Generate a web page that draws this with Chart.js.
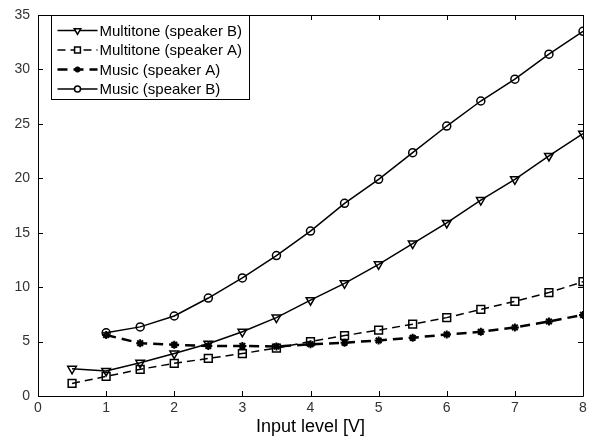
<!DOCTYPE html>
<html>
<head>
<meta charset="utf-8">
<script src="https://cdn.jsdelivr.net/npm/chart.js@4/dist/chart.umd.min.js"></script>
<style>
  html, body { margin: 0; padding: 0; background: #fff; }
  #wrap { width: 591px; height: 440px; }
</style>
</head>
<body>
<div id="wrap"><canvas id="levelChart" width="591" height="440"></canvas></div>
<script>
// input levels (V)
const inputMultitone = [0.5, 1, 1.5, 2, 2.5, 3, 3.5, 4, 4.5, 5, 5.5, 6, 6.5, 7, 7.5, 8];
const inputMusic = [1, 1.5, 2, 2.5, 3, 3.5, 4, 4.5, 5, 5.5, 6, 6.5, 7, 7.5, 8];

// series values
const multitoneB = [2.5, 2.3, 3.05, 3.9, 4.8, 5.9, 7.2, 8.8, 10.35, 12.1, 14.0, 15.9, 18.0, 19.9, 22.05, 24.1];
const multitoneA = [1.15, 1.8, 2.45, 3.0, 3.45, 3.9, 4.4, 5.0, 5.55, 6.05, 6.6, 7.2, 7.95, 8.7, 9.5, 10.5];
const musicA = [5.6, 4.85, 4.7, 4.6, 4.6, 4.55, 4.75, 4.9, 5.1, 5.35, 5.65, 5.9, 6.3, 6.85, 7.45];
const musicB = [5.8, 6.35, 7.35, 9.0, 10.85, 12.9, 15.15, 17.7, 19.9, 22.35, 24.8, 27.1, 29.1, 31.4, 33.5];

const seriesLabels = ['Multitone (speaker B)', 'Multitone (speaker A)', 'Music (speaker A)', 'Music (speaker B)'];
const xTicks = [0, 1, 2, 3, 4, 5, 6, 7, 8];
const yTicks = [0, 5, 10, 15, 20, 25, 30, 35];

const FONT = 'Arial, "Liberation Sans", sans-serif';

function toPoints(xs, ys) {
    return ys.map((y, i) => ({ x: xs[i], y: y }));
}

// legend box inside the axes + inward ticks on all four sides
const matlabAxes = {
    id: 'matlabAxes',
    afterDraw(chart) {
        const ctx = chart.ctx;
        const a = chart.chartArea;
        const xs = chart.scales.x;
        const ys = chart.scales.y;
        ctx.save();
        ctx.strokeStyle = '#000';
        ctx.lineWidth = 1;
        ctx.setLineDash([]);
        ctx.beginPath();
        ctx.rect(Math.round(a.left) + 0.5, Math.round(a.top) + 0.5, Math.round(a.right - a.left), Math.round(a.bottom - a.top));
        ctx.stroke();
        const tl = 5;
        ctx.beginPath();
        xTicks.forEach(v => {
            const px = Math.round(xs.getPixelForValue(v)) + 0.5;
            ctx.moveTo(px, a.bottom); ctx.lineTo(px, a.bottom - tl);
            ctx.moveTo(px, a.top); ctx.lineTo(px, a.top + tl);
        });
        yTicks.forEach(v => {
            const py = Math.round(ys.getPixelForValue(v)) + 0.5;
            ctx.moveTo(a.left, py); ctx.lineTo(a.left + tl, py);
            ctx.moveTo(a.right, py); ctx.lineTo(a.right - tl, py);
        });
        ctx.stroke();

        // legend
        const lx = Math.round(a.left) + 13.5;
        const ly = Math.round(a.top) + 0.5;
        const lw = 198, lh = 84;
        ctx.fillStyle = '#fff';
        ctx.fillRect(lx, ly, lw, lh);
        ctx.strokeRect(lx, ly, lw, lh);
        ctx.font = '15px ' + FONT;
        ctx.textBaseline = 'middle';
        chart.data.datasets.forEach((ds, i) => {
            const y = ly + 15 + i * 19.5;
            ctx.strokeStyle = '#000';
            ctx.lineWidth = ds.borderWidth;
            ctx.setLineDash(ds.borderDash || []);
            ctx.beginPath();
            ctx.moveTo(lx + 6, y);
            ctx.lineTo(lx + 46, y);
            ctx.stroke();
            ctx.setLineDash([]);
            ctx.fillStyle = ds.pointStyle === 'star' ? '#000' : '#fff';
            ctx.lineWidth = ds.pointBorderWidth;
            Chart.helpers.drawPoint(ctx, {
                pointStyle: ds.pointStyle,
                rotation: ds.rotation || 0,
                radius: ds.pointRadius * 0.75,
                borderWidth: ds.pointBorderWidth
            }, lx + 26, y);
            ctx.fillStyle = '#000';
            ctx.fillText(ds.label, lx + 48, y + 1);
        });
        ctx.restore();
    }
};

const ctx = document.getElementById('levelChart').getContext('2d');
const levelChart = new Chart(ctx, {
    type: 'line',
    data: {
        datasets: [{
            label: seriesLabels[0],
            data: toPoints(inputMultitone, multitoneB),
            borderColor: '#000',
            borderWidth: 1.5,
            pointStyle: 'triangle',
            rotation: 180,
            pointRadius: 5,
            pointBorderWidth: 1.5,
            pointBackgroundColor: 'rgba(0,0,0,0)',
            pointBorderColor: '#000'
        }, {
            label: seriesLabels[1],
            data: toPoints(inputMultitone, multitoneA),
            borderColor: '#000',
            borderWidth: 1.5,
            borderDash: [8, 5],
            pointStyle: 'rect',
            pointRadius: 5.5,
            pointBorderWidth: 1.5,
            pointBackgroundColor: 'rgba(0,0,0,0)',
            pointBorderColor: '#000'
        }, {
            label: seriesLabels[2],
            data: toPoints(inputMusic, musicA),
            borderColor: '#000',
            borderWidth: 2.5,
            borderDash: [10, 6],
            pointStyle: 'star',
            pointRadius: 4,
            pointBorderWidth: 2,
            pointBackgroundColor: '#000',
            pointBorderColor: '#000'
        }, {
            label: seriesLabels[3],
            data: toPoints(inputMusic, musicB),
            borderColor: '#000',
            borderWidth: 1.5,
            pointStyle: 'circle',
            pointRadius: 4,
            pointBorderWidth: 1.5,
            pointBackgroundColor: 'rgba(0,0,0,0)',
            pointBorderColor: '#000'
        }]
    },
    options: {
        responsive: false,
        animation: false,
        layout: { padding: { top: 15, right: 8, left: 0, bottom: 0 } },
        plugins: {
            legend: { display: false },
            tooltip: { enabled: false }
        },
        scales: {
            x: {
                type: 'linear',
                min: 0,
                max: 8,
                afterBuildTicks: s => { s.ticks = xTicks.map(v => ({ value: v })); },
                afterFit: s => { s.height = 44; s.paddingLeft = 0; s.paddingRight = 0; },
                grid: { display: false, drawTicks: false },
                border: { display: false },
                ticks: { color: '#333', font: { family: FONT, size: 14 }, padding: 4, maxRotation: 0 },
                title: {
                    display: true,
                    text: 'Input level [V]',
                    color: '#000',
                    font: { family: FONT, size: 18 },
                    padding: { top: 0, bottom: 2 }
                }
            },
            y: {
                type: 'linear',
                min: 0,
                max: 35,
                afterBuildTicks: s => { s.ticks = yTicks.map(v => ({ value: v })); },
                afterFit: s => { s.width = 38; s.paddingTop = 0; s.paddingBottom = 0; },
                grid: { display: false, drawTicks: false },
                border: { display: false },
                ticks: { color: '#333', font: { family: FONT, size: 14 }, padding: 8 }
            }
        }
    },
    plugins: [matlabAxes]
});
</script>
</body>
</html>
